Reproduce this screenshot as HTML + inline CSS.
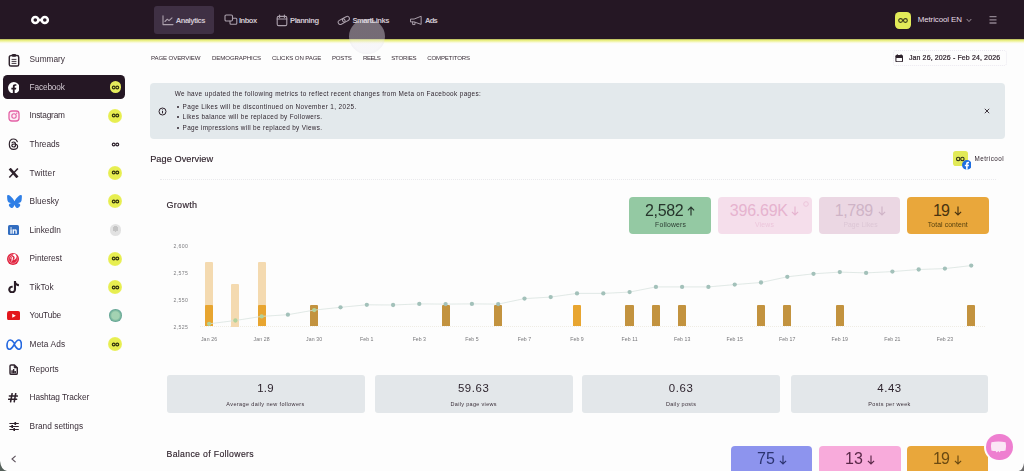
<!DOCTYPE html>
<html>
<head>
<meta charset="utf-8">
<title>Metricool Analytics</title>
<style>
*{box-sizing:border-box;margin:0;padding:0}
html,body{width:1024px;height:471px;overflow:hidden;background:#fdfdfd;font-family:"Liberation Sans",sans-serif}
.a{position:absolute;display:block}
.t{position:absolute;white-space:nowrap;font-family:"Liberation Sans",sans-serif}
#root{position:absolute;left:0;top:0;width:1024px;height:471px;filter:blur(0.5px)}
</style>
</head>
<body>
<div id="root">
<div class="a" style="left:-12px;top:-12px;width:1048px;height:51.4px;background:#251724;border-radius:0;"></div>
<div class="a" style="left:-12px;top:39.2px;width:1048px;height:5px;background:linear-gradient(#6b6a3a 0%,#e3e978 14%,#edf18c 38%,#f6f8c8 60%,#fcfcf2 82%,#fdfdfb 100%)"></div>
<svg class="a" style="left:29px;top:13.8px" width="22" height="12" viewBox="0 0 22 12"><circle cx="6.3" cy="6" r="3.05" fill="none" stroke="#fff" stroke-width="2.5"/><circle cx="15.8" cy="6" r="3.05" fill="none" stroke="#fff" stroke-width="2.5"/><rect x="9.4" y="4.7" width="3.4" height="2.6" fill="#fff"/></svg>
<div class="a" style="left:154px;top:5.9px;width:59.8px;height:28.5px;background:#3f3044;border-radius:3px;"></div>
<div class="t" style="left:175.80px;top:16.83px;font-size:7.6px;line-height:7.6px;color:#cfc6d0;letter-spacing:-0.510px;font-weight:bold;">Analytics</div>
<div class="t" style="left:239.00px;top:16.83px;font-size:7.6px;line-height:7.6px;color:#cfc6d0;letter-spacing:-0.533px;font-weight:bold;">Inbox</div>
<div class="t" style="left:290.00px;top:16.83px;font-size:7.6px;line-height:7.6px;color:#cfc6d0;letter-spacing:-0.424px;font-weight:bold;">Planning</div>
<div class="t" style="left:352.50px;top:16.83px;font-size:7.6px;line-height:7.6px;color:#cfc6d0;letter-spacing:-0.489px;font-weight:bold;">SmartLinks</div>
<div class="t" style="left:425.00px;top:16.83px;font-size:7.6px;line-height:7.6px;color:#cfc6d0;letter-spacing:-0.786px;font-weight:bold;">Ads</div>
<svg class="a" style="left:162px;top:15px" width="12" height="11" viewBox="0 0 12 11"><path d="M1 0.8V9.6H11" fill="none" stroke="#aca1ad" stroke-width="1.1" stroke-linecap="round" stroke-linejoin="round"/><path d="M3 6.5L5.3 4.2L7 5.6L10 2.8" fill="none" stroke="#aca1ad" stroke-width="1.1" stroke-linecap="round" stroke-linejoin="round"/></svg>
<svg class="a" style="left:224px;top:14px" width="14" height="12" viewBox="0 0 14 12"><rect x="1" y="1" width="7.5" height="6" rx="1.2" fill="none" stroke="#aca1ad" stroke-width="1.1" stroke-linecap="round" stroke-linejoin="round"/><path d="M6 7V9.3Q6 10.3 7 10.3H11.8Q12.8 10.3 12.8 9.3V5.2Q12.8 4.2 11.8 4.2H8.6" fill="none" stroke="#aca1ad" stroke-width="1.1" stroke-linecap="round" stroke-linejoin="round"/></svg>
<svg class="a" style="left:276px;top:14px" width="12" height="13" viewBox="0 0 12 13"><rect x="1.2" y="2.4" width="9.6" height="9.2" rx="1.4" fill="none" stroke="#aca1ad" stroke-width="1.1" stroke-linecap="round" stroke-linejoin="round"/><path d="M1.2 5H10.8M3.6 1V3.4M8.4 1V3.4" fill="none" stroke="#aca1ad" stroke-width="1.1" stroke-linecap="round" stroke-linejoin="round"/></svg>
<svg class="a" style="left:337.4px;top:14.8px" width="13.6" height="10.9" viewBox="0 0 15 12"><g transform="rotate(-28 7.5 6)"><rect x="0.8" y="3.6" width="8" height="4.8" rx="2.4" fill="none" stroke="#aca1ad" stroke-width="1.1" stroke-linecap="round" stroke-linejoin="round"/><rect x="6.2" y="3.6" width="8" height="4.8" rx="2.4" fill="none" stroke="#aca1ad" stroke-width="1.1" stroke-linecap="round" stroke-linejoin="round"/></g></svg>
<svg class="a" style="left:410.4px;top:15px" width="12.4" height="11.5" viewBox="0 0 14 13"><path d="M1 4.6H4.6L12.6 1.4V10.6L4.6 7.8H1Z" fill="none" stroke="#aca1ad" stroke-width="1.1" stroke-linecap="round" stroke-linejoin="round"/><path d="M3 7.8V10.8H5.6V8.2" fill="none" stroke="#aca1ad" stroke-width="1.1" stroke-linecap="round" stroke-linejoin="round"/></svg>
<div class="a" style="left:894.7px;top:12px;width:16.8px;height:16.8px;background:#e2ea58;border-radius:4.2px;"></div>
<svg class="a" style="left:897px;top:17px" width="12" height="7" viewBox="0 0 12 7"><circle cx="3.6" cy="3.5" r="1.9" fill="none" stroke="#3a3a1a" stroke-width="1.1"/><circle cx="8.4" cy="3.5" r="1.9" fill="none" stroke="#3a3a1a" stroke-width="1.1"/></svg>
<div class="t" style="left:917.70px;top:16.27px;font-size:7.9px;line-height:7.9px;color:#e6dee6;letter-spacing:-0.085px;">Metricool EN</div>
<svg class="a" style="left:966px;top:18px" width="6" height="5" viewBox="0 0 6 5"><path d="M0.7 1L3 3.6L5.3 1" fill="none" stroke="#a99fa8" stroke-width="0.9"/></svg>
<svg class="a" style="left:989px;top:15px" width="8" height="10" viewBox="0 0 8 10"><path d="M0.5 1.6H7.5M0.5 4.8H7.5M0.5 8H7.5" stroke="#8f838e" stroke-width="1.3"/></svg>
<div class="a" style="left:3px;top:75px;width:122.4px;height:24.4px;background:#251724;border-radius:4.5px;"></div>
<div class="t" style="left:29.60px;top:54.86px;font-size:8.3px;line-height:8.3px;color:#3b2f39;letter-spacing:-0.045px;">Summary</div>
<div class="t" style="left:29.60px;top:82.86px;font-size:8.3px;line-height:8.3px;color:#d2c9d2;letter-spacing:-0.156px;">Facebook</div>
<div class="t" style="left:29.60px;top:111.46px;font-size:8.3px;line-height:8.3px;color:#3b2f39;letter-spacing:-0.189px;">Instagram</div>
<div class="t" style="left:29.60px;top:140.16px;font-size:8.3px;line-height:8.3px;color:#3b2f39;letter-spacing:-0.064px;">Threads</div>
<div class="t" style="left:29.60px;top:168.86px;font-size:8.3px;line-height:8.3px;color:#3b2f39;letter-spacing:0.194px;">Twitter</div>
<div class="t" style="left:29.60px;top:196.56px;font-size:8.3px;line-height:8.3px;color:#3b2f39;letter-spacing:0.062px;">Bluesky</div>
<div class="t" style="left:29.60px;top:225.56px;font-size:8.3px;line-height:8.3px;color:#3b2f39;letter-spacing:-0.010px;">LinkedIn</div>
<div class="t" style="left:29.60px;top:254.26px;font-size:8.3px;line-height:8.3px;color:#3b2f39;letter-spacing:-0.039px;">Pinterest</div>
<div class="t" style="left:29.60px;top:282.86px;font-size:8.3px;line-height:8.3px;color:#3b2f39;letter-spacing:0.055px;">TikTok</div>
<div class="t" style="left:29.60px;top:311.16px;font-size:8.3px;line-height:8.3px;color:#3b2f39;letter-spacing:-0.160px;">YouTube</div>
<div class="t" style="left:29.60px;top:339.96px;font-size:8.3px;line-height:8.3px;color:#3b2f39;letter-spacing:0.125px;">Meta Ads</div>
<div class="t" style="left:29.60px;top:364.96px;font-size:8.3px;line-height:8.3px;color:#3b2f39;letter-spacing:0.020px;">Reports</div>
<div class="t" style="left:29.60px;top:392.86px;font-size:8.3px;line-height:8.3px;color:#3b2f39;letter-spacing:-0.093px;">Hashtag Tracker</div>
<div class="t" style="left:29.60px;top:421.56px;font-size:8.3px;line-height:8.3px;color:#3b2f39;letter-spacing:0.031px;">Brand settings</div>
<div class="a" style="left:109.5px;top:81.39999999999999px;width:11.8px;height:11.8px;border-radius:50%;background:#e5ec5c"></div>
<svg class="a" style="left:110.9px;top:84.8px" width="9" height="5" viewBox="0 0 9 5"><circle cx="2.7" cy="2.5" r="1.4" fill="none" stroke="#33340f" stroke-width="1.15"/><circle cx="6.3" cy="2.5" r="1.4" fill="none" stroke="#33340f" stroke-width="1.15"/></svg>
<div class="a" style="left:108.4px;top:108.9px;width:14px;height:14px;border-radius:50%;background:radial-gradient(circle,#e7ee50 0 58%,#ecf272 78%,rgba(240,245,150,0.55) 92%,rgba(245,248,190,0) 100%)"></div>
<svg class="a" style="left:110.9px;top:113.4px" width="9" height="5" viewBox="0 0 9 5"><circle cx="2.7" cy="2.5" r="1.4" fill="none" stroke="#33340f" stroke-width="1.15"/><circle cx="6.3" cy="2.5" r="1.4" fill="none" stroke="#33340f" stroke-width="1.15"/></svg>
<div class="a" style="left:108.4px;top:165.8px;width:14px;height:14px;border-radius:50%;background:radial-gradient(circle,#e7ee50 0 58%,#ecf272 78%,rgba(240,245,150,0.55) 92%,rgba(245,248,190,0) 100%)"></div>
<svg class="a" style="left:110.9px;top:170.3px" width="9" height="5" viewBox="0 0 9 5"><circle cx="2.7" cy="2.5" r="1.4" fill="none" stroke="#33340f" stroke-width="1.15"/><circle cx="6.3" cy="2.5" r="1.4" fill="none" stroke="#33340f" stroke-width="1.15"/></svg>
<div class="a" style="left:108.4px;top:194px;width:14px;height:14px;border-radius:50%;background:radial-gradient(circle,#e7ee50 0 58%,#ecf272 78%,rgba(240,245,150,0.55) 92%,rgba(245,248,190,0) 100%)"></div>
<svg class="a" style="left:110.9px;top:198.5px" width="9" height="5" viewBox="0 0 9 5"><circle cx="2.7" cy="2.5" r="1.4" fill="none" stroke="#33340f" stroke-width="1.15"/><circle cx="6.3" cy="2.5" r="1.4" fill="none" stroke="#33340f" stroke-width="1.15"/></svg>
<div class="a" style="left:108.4px;top:251.7px;width:14px;height:14px;border-radius:50%;background:radial-gradient(circle,#e7ee50 0 58%,#ecf272 78%,rgba(240,245,150,0.55) 92%,rgba(245,248,190,0) 100%)"></div>
<svg class="a" style="left:110.9px;top:256.2px" width="9" height="5" viewBox="0 0 9 5"><circle cx="2.7" cy="2.5" r="1.4" fill="none" stroke="#33340f" stroke-width="1.15"/><circle cx="6.3" cy="2.5" r="1.4" fill="none" stroke="#33340f" stroke-width="1.15"/></svg>
<div class="a" style="left:108.4px;top:280.3px;width:14px;height:14px;border-radius:50%;background:radial-gradient(circle,#e7ee50 0 58%,#ecf272 78%,rgba(240,245,150,0.55) 92%,rgba(245,248,190,0) 100%)"></div>
<svg class="a" style="left:110.9px;top:284.8px" width="9" height="5" viewBox="0 0 9 5"><circle cx="2.7" cy="2.5" r="1.4" fill="none" stroke="#33340f" stroke-width="1.15"/><circle cx="6.3" cy="2.5" r="1.4" fill="none" stroke="#33340f" stroke-width="1.15"/></svg>
<div class="a" style="left:108.4px;top:337.4px;width:14px;height:14px;border-radius:50%;background:radial-gradient(circle,#e7ee50 0 58%,#ecf272 78%,rgba(240,245,150,0.55) 92%,rgba(245,248,190,0) 100%)"></div>
<svg class="a" style="left:110.9px;top:341.9px" width="9" height="5" viewBox="0 0 9 5"><circle cx="2.7" cy="2.5" r="1.4" fill="none" stroke="#33340f" stroke-width="1.15"/><circle cx="6.3" cy="2.5" r="1.4" fill="none" stroke="#33340f" stroke-width="1.15"/></svg>
<svg class="a" style="left:110.9px;top:142.1px" width="9" height="5" viewBox="0 0 9 5"><circle cx="2.7" cy="2.5" r="1.4" fill="none" stroke="#2e222c" stroke-width="1.15"/><circle cx="6.3" cy="2.5" r="1.4" fill="none" stroke="#2e222c" stroke-width="1.15"/></svg>
<div class="a" style="left:109.6px;top:224px;width:11.6px;height:11.6px;border-radius:50%;background:radial-gradient(circle at 50% 40%,#c4c4c4 0 30%,#e2e2e2 32% 100%)"></div>
<div class="a" style="left:109.2px;top:309.4px;width:12.4px;height:12.4px;border-radius:50%;background:radial-gradient(circle,#a3d2b2 0 40%,#6fae98 62%,#4f8f96 88%,#6a9fb0 100%)"></div>
<svg class="a" style="left:8px;top:52.5px" width="12" height="14" viewBox="0 0 12 14"><rect x="1.3" y="2.6" width="9.4" height="10.4" rx="1.6" fill="none" stroke="#2e222c" stroke-width="1.45"/><rect x="4" y="0.9" width="4" height="2.8" rx="0.8" fill="#2e222c"/><path d="M3.6 6.4H8.4M3.6 8.4H8.4M3.6 10.4H8.4" stroke="#2e222c" stroke-width="0.9"/></svg>
<svg class="a" style="left:7.6px;top:81.5px" width="11.6" height="11.6" viewBox="0 0 24 24"><circle cx="12" cy="12" r="12" fill="#fff"/><path d="M16.6 15.4l.55-3.5h-3.35V9.65c0-.95.47-1.9 1.97-1.9h1.53V4.8s-1.39-.24-2.71-.24c-2.76 0-4.57 1.67-4.57 4.71v2.66H6.95v3.5h3.07V24h3.78v-8.6z" fill="#241722"/></svg>
<svg class="a" style="left:7.8px;top:110px" width="12" height="12" viewBox="0 0 12 12"><rect x="1" y="1" width="10" height="10" rx="2.8" fill="#fdeef6" stroke="#e462a6" stroke-width="1.3"/><circle cx="6" cy="6" r="2.2" fill="none" stroke="#e462a6" stroke-width="1.1"/><circle cx="8.7" cy="3.3" r="0.7" fill="#e462a6"/></svg>
<svg class="a" style="left:8px;top:138.2px" width="11" height="12.4" viewBox="0 0 11 12.4"><path d="M9.3 3.6C8.6 1.8 7.3 1 5.6 1C2.8 1 1.3 3 1.3 6.2S2.8 11.4 5.6 11.4C8 11.4 9.6 10.2 9.6 8.6C9.6 6.8 8 6 6 6C4.6 6 3.8 6.7 3.8 7.6C3.8 8.5 4.6 9 5.6 9C7 9 7.6 8 7.6 6.4C7.6 4.8 6.8 4 5.6 4C4.8 4 4.3 4.3 4 4.8" fill="none" stroke="#2e222c" stroke-width="1.2" stroke-linecap="round" stroke-linejoin="round"/></svg>
<svg class="a" style="left:8px;top:168.2px" width="11.2" height="10" viewBox="0 0 11.2 10"><path d="M1.7 0.6L9.5 9.4" stroke="#2e222c" stroke-width="2.7"/><path d="M9.9 0.5L1.3 9.5" stroke="#2e222c" stroke-width="1.5"/></svg>
<svg class="a" style="left:6.8px;top:194.6px" width="15" height="13.2" viewBox="0 0 64 57"><path d="M13.87 3.8C21.2 9.3 29.1 20.5 32 26.5c2.9-6 10.8-17.2 18.13-22.7C55.4-.16 64-3.23 64 6.5c0 1.95-1.12 16.35-1.77 18.7-2.27 8.1-10.54 10.18-17.9 8.93 12.86 2.2 16.13 9.44 9.07 16.7-13.42 13.76-19.3-3.46-20.8-7.87-.27-.8-.4-1.18-.4-.86 0-.32-.13.06-.4.86-1.5 4.4-7.38 21.63-20.8 7.86-7.06-7.25-3.8-14.5 9.07-16.7-7.36 1.26-15.63-.82-17.9-8.92C1.12 22.85 0 8.45 0 6.5 0-3.23 8.6-.16 13.87 3.8z" fill="#2f7fe6"/></svg>
<div class="a" style="left:8.1px;top:224.6px;width:11px;height:10.8px;border-radius:1.6px;background:#326dc0"></div>
<svg class="a" style="left:8.1px;top:224.5px" width="11" height="11" viewBox="0 0 24 24"><path d="M5.2 9.4h2.9V19H5.2zM6.65 4.8a1.7 1.7 0 110 3.4 1.7 1.7 0 010-3.4zM10 9.4h2.8v1.3c.4-.75 1.4-1.55 2.85-1.55 3 0 3.55 1.95 3.55 4.55V19h-2.9v-4.7c0-1.1 0-2.55-1.55-2.55s-1.8 1.2-1.8 2.45V19H10z" fill="#fff"/></svg>
<svg class="a" style="left:7.4px;top:252.7px" width="12" height="12" viewBox="0 0 24 24"><circle cx="12" cy="12" r="12" fill="#e0233e"/><circle cx="12" cy="12" r="8.6" fill="none" stroke="#f6b9c4" stroke-width="1.2"/><path d="M12.2 5.6c-3.5 0-5.3 2.3-5.3 4.5 0 1.2.6 2.3 1.6 2.7.3.1.4 0 .45-.2l.2-.9c.05-.2 0-.3-.15-.45-.35-.4-.55-.95-.55-1.65 0-2.1 1.6-3.55 3.6-3.55 2.05 0 3.2 1.25 3.2 2.95 0 2.2-1 4.05-2.45 4.05-.8 0-1.4-.65-1.2-1.45.25-.95.7-2 .7-2.7 0-.6-.35-1.15-1.05-1.15-.8 0-1.5.85-1.5 2 0 .7.25 1.2.25 1.2l-1 4.2c-.25 1.1-.05 2.5 0 2.8 0 .1.15.15.2.05.1-.15 1.4-1.75 1.8-3.3l.65-2.5c.35.6 1.3 1.15 2.3 1.15 3 0 5-2.7 5-6.35 0-2.75-2.3-5.3-5.85-5.3z" fill="#fff"/></svg>
<svg class="a" style="left:8.2px;top:280.8px" width="11" height="12.6" viewBox="0 0 21 24"><path d="M15.3 0h-4v16.3a3.4 3.4 0 11-2.4-3.25V8.9a7.45 7.45 0 106.4 7.37V8.1a9.5 9.5 0 005.5 1.76V5.85A5.55 5.55 0 0115.3 0z" fill="#2a1d27"/></svg>
<svg class="a" style="left:7.2px;top:311px" width="13.2" height="9.4" viewBox="0 0 28 20"><rect x="0" y="0" width="28" height="20" rx="5" fill="#e3161c"/><path d="M11.2 5.6V14.4L18.8 10z" fill="#fff"/></svg>
<svg class="a" style="left:5.6px;top:338.6px" width="16.4" height="11.4" viewBox="0 0 32.8 22.8"><path d="M16.4 8.2C13.6 3.8 11.4 2 8.6 2C4.8 2 2 7 2 12.6C2 17 4 20.6 7.4 20.6C10.6 20.6 12.6 17.4 16.4 11C20.2 4.6 22.4 2 25.4 2C28.6 2 30.8 6.8 30.8 12.4C30.8 17.4 28.8 20.6 25.6 20.6C22.4 20.6 20.4 17.8 16.4 11" fill="none" stroke="#2468e0" stroke-width="3.3" stroke-linecap="round"/></svg>
<svg class="a" style="left:9.1px;top:363.6px" width="9.3" height="11.2" viewBox="0 0 10 12"><path d="M1.1 2.2Q1.1 1 2.3 1H5.8L8.9 4V9.8Q8.9 11 7.7 11H2.3Q1.1 11 1.1 9.8Z" fill="none" stroke="#2e222c" stroke-width="1.55" stroke-linejoin="round"/><path d="M5.6 1V4.2H8.9" fill="#2e222c" stroke="#2e222c" stroke-width="0.8"/><path d="M3.3 10V6.8M5 10V5.4M6.7 10V7.4" stroke="#2e222c" stroke-width="1.5"/></svg>
<svg class="a" style="left:8.4px;top:393.4px" width="10" height="9.4" viewBox="0 0 10 9.4"><path d="M4.1 0.6L2.6 8.8M7.7 0.6L6.2 8.8M1.4 3.1H9.4M0.6 6.3H8.6" stroke="#2e222c" stroke-width="1.55" stroke-linecap="round"/></svg>
<svg class="a" style="left:8.6px;top:421.6px" width="10.2" height="9" viewBox="0 0 10.2 9"><path d="M0.4 1.5H9.8M0.4 4.5H9.8M0.4 7.5H9.8" stroke="#2e222c" stroke-width="1.05"/><path d="M6.3 0.1V2.9M3.2 3.1V5.9M5.2 6.1V8.9" stroke="#2e222c" stroke-width="1.6"/></svg>
<svg class="a" style="left:10.6px;top:455px" width="5.4" height="8" viewBox="0 0 5.4 8"><path d="M4.6 0.8L1 4L4.6 7.2" fill="none" stroke="#5b505a" stroke-width="1.1"/></svg>
<div class="t" style="left:151.00px;top:54.84px;font-size:6.1px;line-height:6.1px;color:#3b2f39;letter-spacing:-0.120px;">PAGE OVERVIEW</div>
<div class="t" style="left:212.00px;top:54.84px;font-size:6.1px;line-height:6.1px;color:#3b2f39;letter-spacing:-0.097px;">DEMOGRAPHICS</div>
<div class="t" style="left:272.00px;top:54.84px;font-size:6.1px;line-height:6.1px;color:#3b2f39;letter-spacing:-0.127px;">CLICKS ON PAGE</div>
<div class="t" style="left:332.00px;top:54.84px;font-size:6.1px;line-height:6.1px;color:#3b2f39;letter-spacing:-0.216px;">POSTS</div>
<div class="t" style="left:363.00px;top:54.84px;font-size:6.1px;line-height:6.1px;color:#3b2f39;letter-spacing:-0.521px;">REELS</div>
<div class="t" style="left:391.20px;top:54.84px;font-size:6.1px;line-height:6.1px;color:#3b2f39;letter-spacing:-0.210px;">STORIES</div>
<div class="t" style="left:427.20px;top:54.84px;font-size:6.1px;line-height:6.1px;color:#3b2f39;letter-spacing:-0.166px;">COMPETITORS</div>
<div class="a" style="left:893.4px;top:50.2px;width:114px;height:16px;border:1px dotted #ece9f1;border-radius:3px"></div>
<svg class="a" style="left:895.2px;top:53.8px" width="8.4" height="8.6" viewBox="0 0 8.4 8.6"><rect x="0.4" y="1.1" width="7.6" height="7.1" rx="1.2" fill="#2e222c"/><rect x="1.4" y="3.9" width="5.6" height="3.3" rx="0.4" fill="#fdfdfd"/><path d="M2.3 0.2V1.6M6.1 0.2V1.6" stroke="#2e222c" stroke-width="0.9"/></svg>
<div class="t" style="left:908.90px;top:54.46px;font-size:7px;line-height:7px;color:#2a1d27;letter-spacing:0.124px;-webkit-text-stroke:0.2px #2a1d27;">Jan 26, 2026 - Feb 24, 2026</div>
<div class="a" style="left:150.2px;top:82.6px;width:854.6px;height:56.4px;background:#e3e9ec;border-radius:4px;"></div>
<svg class="a" style="left:157.8px;top:106.6px" width="9" height="9" viewBox="0 0 9 9"><circle cx="4.5" cy="4.5" r="3.5" fill="none" stroke="#2e222c" stroke-width="1"/><path d="M4.5 4V6.4" stroke="#2e222c" stroke-width="1"/><circle cx="4.5" cy="2.8" r="0.5" fill="#2e222c"/></svg>
<div class="t" style="left:174.80px;top:90.58px;font-size:6.4px;line-height:6.4px;color:#30262f;letter-spacing:0.378px;">We have updated the following metrics to reflect recent changes from Meta on Facebook pages:</div>
<div class="t" style="left:182.60px;top:103.58px;font-size:6.4px;line-height:6.4px;color:#30262f;letter-spacing:0.387px;">Page Likes will be discontinued on November 1, 2025.</div>
<div class="t" style="left:182.60px;top:114.28px;font-size:6.4px;line-height:6.4px;color:#30262f;letter-spacing:0.352px;">Likes balance will be replaced by Followers.</div>
<div class="t" style="left:182.60px;top:124.88px;font-size:6.4px;line-height:6.4px;color:#30262f;letter-spacing:0.330px;">Page impressions will be replaced by Views.</div>
<div class="a" style="left:176.6px;top:105.60000000000001px;width:2px;height:2px;border-radius:50%;background:#30262f"></div>
<div class="a" style="left:176.6px;top:116.30000000000001px;width:2px;height:2px;border-radius:50%;background:#30262f"></div>
<div class="a" style="left:176.6px;top:126.9px;width:2px;height:2px;border-radius:50%;background:#30262f"></div>
<svg class="a" style="left:983.8px;top:107.6px" width="6" height="6" viewBox="0 0 6 6"><path d="M0.8 0.8L5.2 5.2M5.2 0.8L0.8 5.2" stroke="#2e222c" stroke-width="0.9"/></svg>
<div class="t" style="left:150.20px;top:154.68px;font-size:9.2px;line-height:9.2px;color:#2a1d27;letter-spacing:0.047px;-webkit-text-stroke:0.14px #2a1d27;">Page Overview</div>
<div class="a" style="left:952.8px;top:151.4px;width:14.8px;height:14.8px;background:#e2ea58;border-radius:2.8px;"></div>
<svg class="a" style="left:954.8px;top:156px" width="10.6" height="6" viewBox="0 0 10 5.6"><circle cx="3" cy="2.8" r="1.6" fill="none" stroke="#2e2e18" stroke-width="1"/><circle cx="7" cy="2.8" r="1.6" fill="none" stroke="#2e2e18" stroke-width="1"/></svg>
<svg class="a" style="left:961.7px;top:159.8px" width="9.8" height="9.8" viewBox="0 0 24 24"><circle cx="12" cy="12" r="12" fill="#1f6fe0"/><path d="M16.6 15.4l.55-3.5h-3.35V9.65c0-.95.47-1.9 1.97-1.9h1.53V4.8s-1.39-.24-2.71-.24c-2.76 0-4.57 1.67-4.57 4.71v2.66H6.95v3.5h3.07V24h3.78v-8.6z" fill="#fff"/></svg>
<div class="t" style="left:974.60px;top:155.83px;font-size:6.3px;line-height:6.3px;color:#2a1d27;letter-spacing:0.427px;">Metricool</div>
<div class="a" style="left:159.6px;top:179.2px;width:836px;height:0;border-top:1px dotted #e9e9ec"></div>
<div class="t" style="left:166.60px;top:200.78px;font-size:9px;line-height:9px;color:#2a1d27;letter-spacing:0.265px;-webkit-text-stroke:0.14px #2a1d27;">Growth</div>
<div class="a" style="left:629.2px;top:196.8px;width:81.6px;height:37.6px;background:#94c9a3;border-radius:4px;"></div>
<div class="t" style="left:645.00px;top:202.64px;font-size:16px;line-height:16px;color:#26352c;letter-spacing:-0.328px;">2,582</div>
<svg class="a" style="left:687.4px;top:206px" width="8" height="10.4" viewBox="0 0 8 10.4"><path d="M4 9.6V1.2M0.9 4.4L4 1.2L7.1 4.4" fill="none" stroke="#26352c" stroke-width="1.15"/></svg>
<div class="t" style="left:655.00px;top:221.96px;font-size:6.8px;line-height:6.8px;color:#2c3c32;letter-spacing:0.234px;">Followers</div>
<div class="a" style="left:717.7px;top:196.8px;width:94.4px;height:37.6px;background:#f5deeb;border-radius:4px;"></div>
<div class="t" style="left:729.80px;top:202.64px;font-size:16px;line-height:16px;color:#e6b3cf;letter-spacing:-0.230px;">396.69K</div>
<svg class="a" style="left:790.6px;top:206px" width="8" height="10.4" viewBox="0 0 8 10.4"><path d="M4 0.6V9M0.9 5.8L4 9L7.1 5.8" fill="none" stroke="#e6b3cf" stroke-width="1.15"/></svg>
<div class="t" style="left:755.00px;top:221.96px;font-size:6.8px;line-height:6.8px;color:#ecc6db;letter-spacing:0.197px;">Views</div>
<div class="a" style="left:819px;top:196.8px;width:81.4px;height:37.6px;background:#ebd7e3;border-radius:4px;"></div>
<div class="t" style="left:834.70px;top:202.64px;font-size:16px;line-height:16px;color:#cfb4c7;letter-spacing:-0.408px;">1,789</div>
<svg class="a" style="left:877.6px;top:206px" width="8" height="10.4" viewBox="0 0 8 10.4"><path d="M4 0.6V9M0.9 5.8L4 9L7.1 5.8" fill="none" stroke="#cfb4c7" stroke-width="1.15"/></svg>
<div class="t" style="left:843.40px;top:221.96px;font-size:6.8px;line-height:6.8px;color:#dcc6d5;letter-spacing:0.065px;">Page Likes</div>
<div class="a" style="left:906.5px;top:196.8px;width:82px;height:37.6px;background:#e9a73b;border-radius:4px;"></div>
<div class="t" style="left:933.00px;top:202.64px;font-size:16px;line-height:16px;color:#4a3410;letter-spacing:-0.799px;">19</div>
<svg class="a" style="left:953.6px;top:206px" width="8" height="10.4" viewBox="0 0 8 10.4"><path d="M4 0.6V9M0.9 5.8L4 9L7.1 5.8" fill="none" stroke="#4a3410" stroke-width="1.15"/></svg>
<div class="t" style="left:927.80px;top:221.96px;font-size:6.8px;line-height:6.8px;color:#55400f;letter-spacing:0.111px;">Total content</div>
<svg class="a" style="left:802.5px;top:200.5px" width="6" height="6" viewBox="0 0 6 6"><circle cx="3" cy="3" r="2.3" fill="none" stroke="#eabfd7" stroke-width="0.8"/></svg>
<div class="t" style="left:173.60px;top:244.12px;font-size:5.2px;line-height:5.2px;color:#7d7d80;letter-spacing:0.317px;">2,600</div>
<div class="t" style="left:173.60px;top:270.92px;font-size:5.2px;line-height:5.2px;color:#7d7d80;letter-spacing:0.317px;">2,575</div>
<div class="t" style="left:173.60px;top:297.92px;font-size:5.2px;line-height:5.2px;color:#7d7d80;letter-spacing:0.317px;">2,550</div>
<div class="t" style="left:173.60px;top:324.72px;font-size:5.2px;line-height:5.2px;color:#7d7d80;letter-spacing:0.317px;">2,525</div>
<div class="a" style="left:200px;top:326.1px;width:785px;height:0;border-top:1px dotted #efece4"></div>
<div class="a" style="left:205.00px;top:262.2px;width:8.2px;height:64.30px;background:#f4dab0;border-radius:1px 1px 0 0"></div>
<div class="a" style="left:205.00px;top:305.3px;width:8.2px;height:21.20px;background:#e8a530;border-radius:1px 1px 0 0"></div>
<div class="a" style="left:231.28px;top:284px;width:8.2px;height:42.50px;background:#f4dab0;border-radius:1px 1px 0 0"></div>
<div class="a" style="left:257.56px;top:262.2px;width:8.2px;height:64.30px;background:#f4dab0;border-radius:1px 1px 0 0"></div>
<div class="a" style="left:257.56px;top:305.3px;width:8.2px;height:21.20px;background:#e8a530;border-radius:1px 1px 0 0"></div>
<div class="a" style="left:310.12px;top:305.3px;width:8.2px;height:21.20px;background:#c3933f;border-radius:1px 1px 0 0"></div>
<div class="a" style="left:441.52px;top:305.3px;width:8.2px;height:21.20px;background:#c3933f;border-radius:1px 1px 0 0"></div>
<div class="a" style="left:494.08px;top:305.3px;width:8.2px;height:21.20px;background:#c3933f;border-radius:1px 1px 0 0"></div>
<div class="a" style="left:625.48px;top:305.3px;width:8.2px;height:21.20px;background:#c3933f;border-radius:1px 1px 0 0"></div>
<div class="a" style="left:651.76px;top:305.3px;width:8.2px;height:21.20px;background:#c3933f;border-radius:1px 1px 0 0"></div>
<div class="a" style="left:678.04px;top:305.3px;width:8.2px;height:21.20px;background:#c3933f;border-radius:1px 1px 0 0"></div>
<div class="a" style="left:756.88px;top:305.3px;width:8.2px;height:21.20px;background:#c3933f;border-radius:1px 1px 0 0"></div>
<div class="a" style="left:783.16px;top:305.3px;width:8.2px;height:21.20px;background:#c3933f;border-radius:1px 1px 0 0"></div>
<div class="a" style="left:835.72px;top:305.3px;width:8.2px;height:21.20px;background:#c3933f;border-radius:1px 1px 0 0"></div>
<div class="a" style="left:967.12px;top:305.3px;width:8.2px;height:21.20px;background:#c3933f;border-radius:1px 1px 0 0"></div>
<div class="a" style="left:572.92px;top:305.3px;width:8.2px;height:21.20px;background:#e8a530;border-radius:1px 1px 0 0"></div>
<svg class="a" style="left:0;top:0" width="1024" height="471" viewBox="0 0 1024 471"><polyline points="209.1,323.8 235.4,320.5 261.7,316.4 287.9,314.7 314.2,310.1 340.5,307.3 366.8,304.8 393.1,305 419.3,303.9 445.6,304.1 471.9,303.9 498.2,304.1 524.5,298.6 550.7,297.1 577.0,293.4 603.3,293.4 629.6,292.1 655.9,286.9 682.1,286.9 708.4,286.9 734.7,284.6 761.0,282.5 787.3,276.8 813.5,273.8 839.8,272.1 866.1,272.9 892.4,271.6 918.7,269.5 944.9,268.6 971.2,265.6" fill="none" stroke="#d9e3e0" stroke-width="0.8"/><circle cx="209.1" cy="323.8" r="2.15" fill="#b3d29c"/><circle cx="235.4" cy="320.5" r="2.15" fill="#b3d29c"/><circle cx="261.7" cy="316.4" r="2.15" fill="#b3d29c"/><circle cx="287.9" cy="314.7" r="2.15" fill="#a3c1ba"/><circle cx="314.2" cy="310.1" r="2.15" fill="#b3d29c"/><circle cx="340.5" cy="307.3" r="2.15" fill="#a3c1ba"/><circle cx="366.8" cy="304.8" r="2.15" fill="#a3c1ba"/><circle cx="393.1" cy="305" r="2.15" fill="#a3c1ba"/><circle cx="419.3" cy="303.9" r="2.15" fill="#a3c1ba"/><circle cx="445.6" cy="304.1" r="2.15" fill="#a3c1ba"/><circle cx="471.9" cy="303.9" r="2.15" fill="#a3c1ba"/><circle cx="498.2" cy="304.1" r="2.15" fill="#a3c1ba"/><circle cx="524.5" cy="298.6" r="2.15" fill="#a3c1ba"/><circle cx="550.7" cy="297.1" r="2.15" fill="#a3c1ba"/><circle cx="577.0" cy="293.4" r="2.15" fill="#a3c1ba"/><circle cx="603.3" cy="293.4" r="2.15" fill="#a3c1ba"/><circle cx="629.6" cy="292.1" r="2.15" fill="#a3c1ba"/><circle cx="655.9" cy="286.9" r="2.15" fill="#a3c1ba"/><circle cx="682.1" cy="286.9" r="2.15" fill="#a3c1ba"/><circle cx="708.4" cy="286.9" r="2.15" fill="#a3c1ba"/><circle cx="734.7" cy="284.6" r="2.15" fill="#a3c1ba"/><circle cx="761.0" cy="282.5" r="2.15" fill="#a3c1ba"/><circle cx="787.3" cy="276.8" r="2.15" fill="#a3c1ba"/><circle cx="813.5" cy="273.8" r="2.15" fill="#a3c1ba"/><circle cx="839.8" cy="272.1" r="2.15" fill="#a3c1ba"/><circle cx="866.1" cy="272.9" r="2.15" fill="#a3c1ba"/><circle cx="892.4" cy="271.6" r="2.15" fill="#a3c1ba"/><circle cx="918.7" cy="269.5" r="2.15" fill="#a3c1ba"/><circle cx="944.9" cy="268.6" r="2.15" fill="#a3c1ba"/><circle cx="971.2" cy="265.6" r="2.15" fill="#a3c1ba"/></svg>
<div class="t" style="left:200.90px;top:337.42px;font-size:5.2px;line-height:5.2px;color:#77777a;letter-spacing:0.131px;">Jan 26</div>
<div class="t" style="left:253.46px;top:337.42px;font-size:5.2px;line-height:5.2px;color:#77777a;letter-spacing:0.131px;">Jan 28</div>
<div class="t" style="left:306.02px;top:337.42px;font-size:5.2px;line-height:5.2px;color:#77777a;letter-spacing:0.131px;">Jan 30</div>
<div class="t" style="left:360.08px;top:337.42px;font-size:5.2px;line-height:5.2px;color:#77777a;letter-spacing:0.021px;">Feb 1</div>
<div class="t" style="left:412.64px;top:337.42px;font-size:5.2px;line-height:5.2px;color:#77777a;letter-spacing:0.021px;">Feb 3</div>
<div class="t" style="left:465.20px;top:337.42px;font-size:5.2px;line-height:5.2px;color:#77777a;letter-spacing:0.021px;">Feb 5</div>
<div class="t" style="left:517.76px;top:337.42px;font-size:5.2px;line-height:5.2px;color:#77777a;letter-spacing:0.021px;">Feb 7</div>
<div class="t" style="left:570.32px;top:337.42px;font-size:5.2px;line-height:5.2px;color:#77777a;letter-spacing:0.021px;">Feb 9</div>
<div class="t" style="left:621.38px;top:337.42px;font-size:5.2px;line-height:5.2px;color:#77777a;letter-spacing:0.099px;">Feb 11</div>
<div class="t" style="left:673.94px;top:337.42px;font-size:5.2px;line-height:5.2px;color:#77777a;letter-spacing:0.035px;">Feb 13</div>
<div class="t" style="left:726.50px;top:337.42px;font-size:5.2px;line-height:5.2px;color:#77777a;letter-spacing:0.035px;">Feb 15</div>
<div class="t" style="left:779.06px;top:337.42px;font-size:5.2px;line-height:5.2px;color:#77777a;letter-spacing:0.035px;">Feb 17</div>
<div class="t" style="left:831.62px;top:337.42px;font-size:5.2px;line-height:5.2px;color:#77777a;letter-spacing:0.035px;">Feb 19</div>
<div class="t" style="left:884.18px;top:337.42px;font-size:5.2px;line-height:5.2px;color:#77777a;letter-spacing:0.035px;">Feb 21</div>
<div class="t" style="left:936.74px;top:337.42px;font-size:5.2px;line-height:5.2px;color:#77777a;letter-spacing:0.035px;">Feb 23</div>
<div class="a" style="left:166.5px;top:374.5px;width:198px;height:38.3px;background:#e3e7ea;border-radius:3px;"></div>
<div class="t" style="left:257.20px;top:383.10px;font-size:11.4px;line-height:11.4px;color:#2e242e;letter-spacing:0.251px;">1.9</div>
<div class="t" style="left:226.30px;top:401.86px;font-size:5.5px;line-height:5.5px;color:#3b2f39;letter-spacing:0.382px;">Average daily new followers</div>
<div class="a" style="left:374.7px;top:374.5px;width:198px;height:38.3px;background:#e3e7ea;border-radius:3px;"></div>
<div class="t" style="left:457.90px;top:383.10px;font-size:11.4px;line-height:11.4px;color:#2e242e;letter-spacing:0.614px;">59.63</div>
<div class="t" style="left:450.50px;top:401.86px;font-size:5.5px;line-height:5.5px;color:#3b2f39;letter-spacing:0.321px;">Daily page views</div>
<div class="a" style="left:582.2px;top:374.5px;width:197.8px;height:38.3px;background:#e3e7ea;border-radius:3px;"></div>
<div class="t" style="left:668.80px;top:383.10px;font-size:11.4px;line-height:11.4px;color:#2e242e;letter-spacing:0.603px;">0.63</div>
<div class="t" style="left:665.90px;top:401.86px;font-size:5.5px;line-height:5.5px;color:#3b2f39;letter-spacing:0.318px;">Daily posts</div>
<div class="a" style="left:791.2px;top:374.5px;width:196.6px;height:38.3px;background:#e3e7ea;border-radius:3px;"></div>
<div class="t" style="left:877.20px;top:383.10px;font-size:11.4px;line-height:11.4px;color:#2e242e;letter-spacing:0.603px;">4.43</div>
<div class="t" style="left:868.30px;top:401.86px;font-size:5.5px;line-height:5.5px;color:#3b2f39;letter-spacing:0.343px;">Posts per week</div>
<div class="t" style="left:166.50px;top:449.55px;font-size:8.7px;line-height:8.7px;color:#2a1d27;letter-spacing:0.342px;-webkit-text-stroke:0.14px #2a1d27;">Balance of Followers</div>
<div class="a" style="left:731.3px;top:445.8px;width:81.2px;height:30px;background:#8d94ee;border-radius:4px 4px 0 0;"></div>
<div class="t" style="left:757.00px;top:451.44px;font-size:16px;line-height:16px;color:#2c3470;letter-spacing:0.101px;">75</div>
<svg class="a" style="left:778.8px;top:455.2px" width="8" height="10.4" viewBox="0 0 8 10.4"><path d="M4 0.6V9M0.9 5.8L4 9L7.1 5.8" fill="none" stroke="#2c3470" stroke-width="1.15"/></svg>
<div class="a" style="left:819.4px;top:445.8px;width:81.2px;height:30px;background:#f8abdb;border-radius:4px 4px 0 0;"></div>
<div class="t" style="left:845.00px;top:451.44px;font-size:16px;line-height:16px;color:#5a2848;letter-spacing:0.101px;">13</div>
<svg class="a" style="left:866.8px;top:455.2px" width="8" height="10.4" viewBox="0 0 8 10.4"><path d="M4 0.6V9M0.9 5.8L4 9L7.1 5.8" fill="none" stroke="#5a2848" stroke-width="1.15"/></svg>
<div class="a" style="left:907px;top:445.8px;width:81px;height:30px;background:#e9a73b;border-radius:4px 4px 0 0;"></div>
<div class="t" style="left:933.00px;top:451.44px;font-size:16px;line-height:16px;color:#6a4a12;letter-spacing:-0.799px;">19</div>
<svg class="a" style="left:953.6px;top:455.2px" width="8" height="10.4" viewBox="0 0 8 10.4"><path d="M4 0.6V9M0.9 5.8L4 9L7.1 5.8" fill="none" stroke="#6a4a12" stroke-width="1.15"/></svg>
<div class="a" style="left:984px;top:431.6px;width:30.8px;height:30.8px;border-radius:50%;background:#fdfdfd"></div>
<div class="a" style="left:986.2px;top:433.8px;width:26.4px;height:26.4px;border-radius:50%;background:#ee7fd0"></div>
<svg class="a" style="left:990.4px;top:441px" width="17" height="13" viewBox="0 0 17 13"><path d="M1.4 1.2Q8.5 0 15.6 1.2Q16.6 5 15.6 9.4Q13 10 10.6 9.9L9.6 11.6L8.4 10L6.6 11.6L5.6 9.9Q3 9.9 1.4 9.4Q0.4 5 1.4 1.2Z" fill="#fbe6f5"/></svg>
<div class="a" style="left:349.2px;top:18.8px;width:35.6px;height:35.6px;border-radius:50%;background:radial-gradient(circle,rgba(238,236,242,0.40) 0 62%,rgba(214,212,220,0.44) 84%,rgba(190,188,198,0.46) 100%)"></div>
<svg class="a" style="left:0;top:461px" width="10" height="10" viewBox="0 0 10 10"><path d="M0 0V10H7Q1 9 0 0Z" fill="#55605a"/></svg>
<svg class="a" style="left:1015px;top:462px" width="9" height="9" viewBox="0 0 9 9"><path d="M9 1V9H3.6Q8 8 9 1Z" fill="#6a6a6c"/></svg>
</div>
</body>
</html>
